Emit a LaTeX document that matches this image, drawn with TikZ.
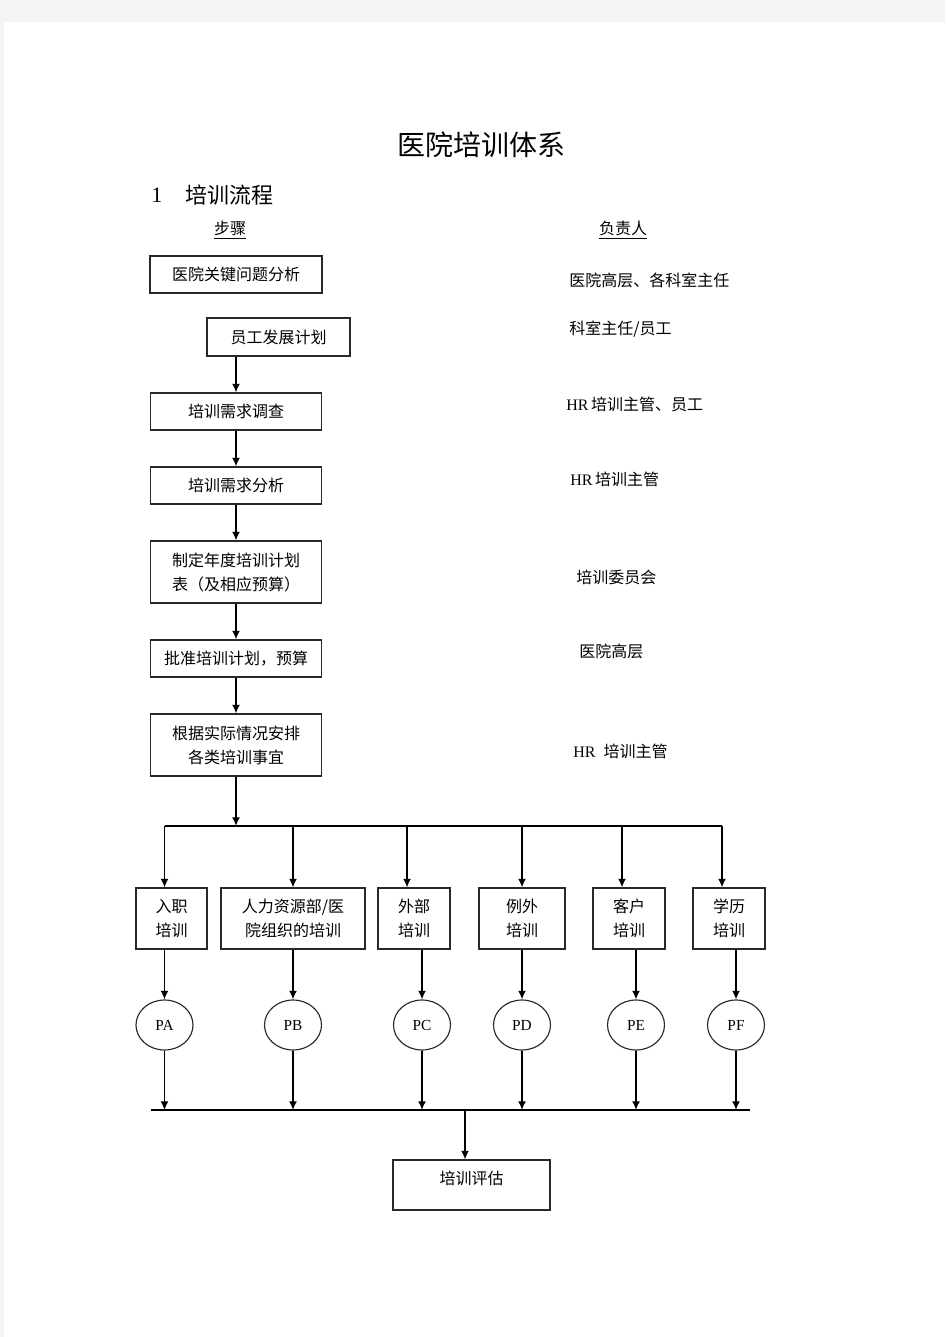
\documentclass[tikz,border=0pt]{standalone}
\usepackage{fontspec}
\setmainfont{Noto Sans CJK SC}
\newfontfamily\lat{Liberation Serif}
\usetikzlibrary{arrows.meta,shapes.geometric}
\begin{document}
\begin{tikzpicture}[x=0.75pt,y=-0.75pt,
 bx/.style 2 args={draw={rgb,255:red,40;green,40;blue,40},line width=0.85pt,minimum width=#1*0.75pt,minimum height=#2*0.75pt,inner sep=0pt,align=center,font=\fontsize{12}{18}\selectfont},
 arr/.style={line width=1.2pt,-{Latex[length=6.5pt,width=6pt]}},
 ln/.style={line width=1.15pt},
 lbl/.style={anchor=west,inner sep=0pt,font=\fontsize{12}{14}\selectfont},
 ell/.style={draw={rgb,255:red,40;green,40;blue,40},ellipse,line width=0.85pt,minimum width=57*0.75pt,minimum height=50*0.75pt,inner sep=0pt,font=\lat\fontsize{11.5}{12}\selectfont},
]
\fill[fill={rgb,255:red,244;green,244;blue,244}] (0,0) rectangle (945,1337);
\fill[white] (4,22) rectangle (945,1337);
\useasboundingbox (0,0) rectangle (945,1337);

% titles
\node[font=\fontsize{21}{24}\selectfont] (title) at (481,145) {医院培训体系};
\node[anchor=west,inner sep=0pt,font=\lat\fontsize{16.5}{18}\selectfont] (hnum) at (151,195) {1};
\node[anchor=west,inner sep=0pt,font=\fontsize{16.5}{18}\selectfont] (htxt) at (185,195) {培训流程};
\node[inner sep=0pt,font=\fontsize{12}{14}\selectfont] (steps) at (230,230) {\underline{步骤}};
\node[inner sep=0pt,font=\fontsize{12}{14}\selectfont] (resp) at (623,230) {\underline{负责人}};

% main flow boxes
\node[bx={172}{37}] (B1) at (236,274.5) {医院关键问题分析};
\node[bx={143}{38}] (B2) at (278.5,337) {员工发展计划};
\node[bx={171}{37}] (B3) at (236,411.5) {培训需求调查};
\node[bx={171}{37}] (B4) at (236,485.5) {培训需求分析};
\node[bx={171}{62}] (B5) at (236,572) {制定年度培训计划\\表（及相应预算）};
\node[bx={171}{37}] (B6) at (236,658.5) {批准培训计划，预算};
\node[bx={171}{62}] (B7) at (236,745) {根据实际情况安排\\各类培训事宜};

% responsible labels
\node[lbl] (r1) at (569,280) {医院高层、各科室主任};
\node[lbl] (r2) at (569,329) {科室主任/员工};
\node[lbl] (r3) at (566,404) {{\lat HR}\,培训主管、员工};
\node[lbl] (r4) at (570,479) {{\lat HR}\,培训主管};
\node[lbl] (r5) at (576,577) {培训委员会};
\node[lbl] (r6) at (579,651) {医院高层};
\node[lbl] (r7) at (573,751) {{\lat HR}\enspace 培训主管};

% connectors main flow
\draw[arr] (B2.south -| B3.north) -- (B3.north);
\draw[arr] (B3) -- (B4);
\draw[arr] (B4) -- (B5);
\draw[arr] (B5) -- (B6);
\draw[arr] (B6) -- (B7);
\coordinate (t0) at (236,826);
\draw[arr] (B7) -- (t0);
\coordinate (tL) at (164.5,826);
\coordinate (tR) at (722,826);
\draw[ln] (tL) -- (tR);

% training type boxes
\node[bx={71}{61}] (C1) at (171.5,918.5) {入职\\培训};
\node[bx={144}{61}] (C2) at (293,918.5) {人力资源部/医\\院组织的培训};
\node[bx={72}{61}] (C3) at (414,918.5) {外部\\培训};
\node[bx={86}{61}] (C4) at (522,918.5) {例外\\培训};
\node[bx={72}{61}] (C5) at (629,918.5) {客户\\培训};
\node[bx={72}{61}] (C6) at (729,918.5) {学历\\培训};

% ellipses
\node[ell] (P1) at (164.5,1025) {PA};
\node[ell] (P2) at (293,1025) {PB};
\node[ell] (P3) at (422,1025) {PC};
\node[ell] (P4) at (522,1025) {PD};
\node[ell] (P5) at (636,1025) {PE};
\node[ell] (P6) at (736,1025) {PF};

% upper drops
\coordinate (u1) at (164.5,826);
\coordinate (u2) at (293,826);
\coordinate (u3) at (407,826);
\coordinate (u4) at (522,826);
\coordinate (u5) at (622,826);
\coordinate (u6) at (722,826);
\foreach \i in {1,...,6}{
  \draw[arr] (u\i) -- (u\i |- C\i.north);
  \draw[arr] (C\i.south -| P\i.north) -- (P\i.north);
}

% lower bus
\coordinate (bL) at (151,1110);
\coordinate (bR) at (750,1110);
\draw[ln] (bL) -- (bR);
\foreach \i in {1,...,6}{
  \draw[arr] (P\i.south) -- (P\i.south |- bL);
}

% evaluation
\node[bx={157}{50}] (ev) at (471.5,1185) {};
\node[inner sep=0pt,font=\fontsize{12}{14}\selectfont] (evt) at (471.5,1178) {培训评估};
\coordinate (bm) at (465,1110);
\draw[arr] (bm) -- (bm |- ev.north);
\end{tikzpicture}
\end{document}
